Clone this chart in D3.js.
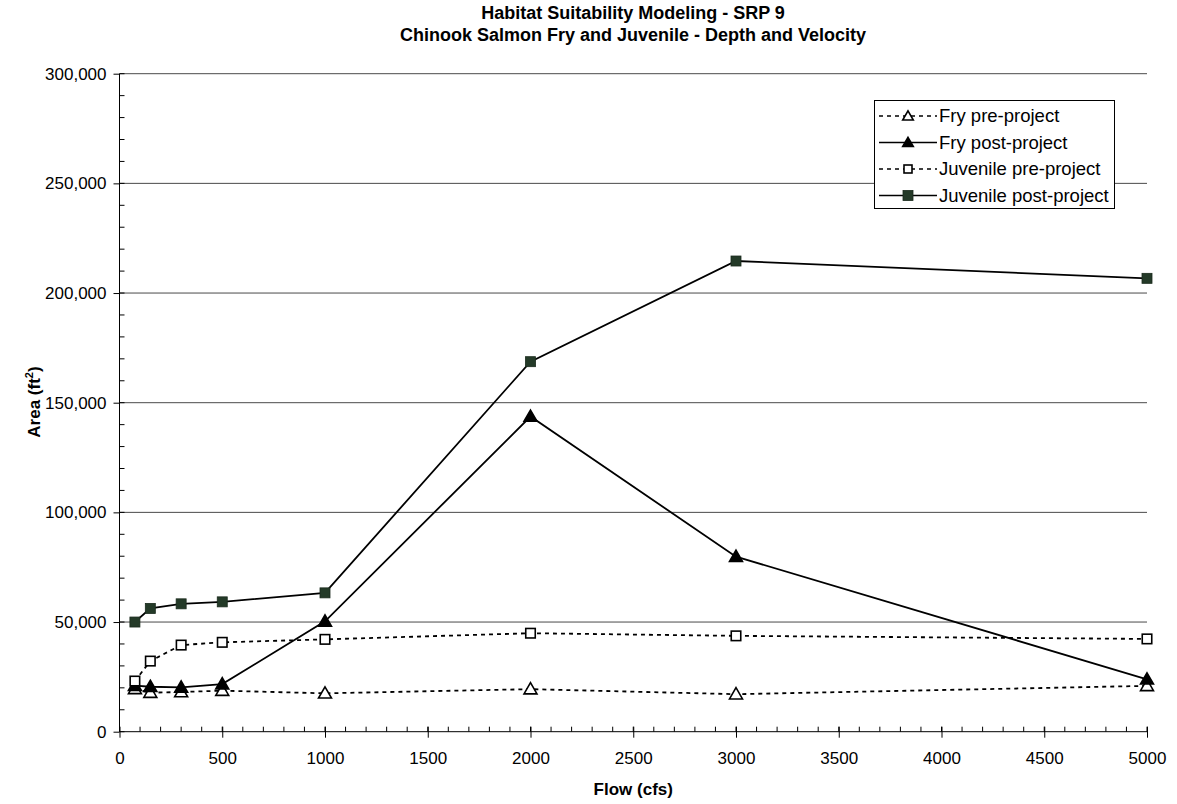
<!DOCTYPE html>
<html><head><meta charset="utf-8">
<script src="https://cdn.jsdelivr.net/npm/d3@7"></script>
<style>
body{margin:0;background:#fff;}
svg{font-family:"Liberation Sans",Arial,sans-serif;}
</style></head>
<body><svg id="c" width="1177" height="804"></svg>
<script>
const flows = [75, 150, 300, 500, 1000, 2000, 3000, 5000];
const fryPre = [19500, 17800, 18100, 18700, 17500, 19400, 17100, 20900];
const fryPost = [21000, 20500, 20200, 21700, 50300, 143700, 79800, 23900];
const juvPre = [23100, 32200, 39500, 40750, 42100, 44900, 43700, 42300];
const juvPost = [50000, 56200, 58300, 59200, 63300, 168700, 214600, 206700];
const xTicks = [0,500,1000,1500,2000,2500,3000,3500,4000,4500,5000];
const yTicks = [0,50000,100000,150000,200000,250000,300000];
const titleLines = ["Habitat Suitability Modeling - SRP 9","Chinook Salmon Fry and Juvenile - Depth and Velocity"];
const seriesNames = ["Fry pre-project","Fry post-project","Juvenile pre-project","Juvenile post-project"];

const svg = d3.select("#c");
const x = d3.scaleLinear().domain([0,5000]).range([119.5,1147]);
const y = d3.scaleLinear().domain([0,300000]).range([731.7,73.7]);
const fmt = d3.format(",");

// gridlines
svg.append("g").selectAll("line").data(yTicks.filter(d=>d>0)).join("line")
  .attr("x1",x(0)).attr("x2",x(5000)).attr("y1",d=>y(d)).attr("y2",d=>y(d))
  .attr("stroke","#4a4a4a").attr("stroke-width",1);

// minor ticks
const minorY = d3.range(0,300001,10000);
svg.append("g").selectAll("line").data(minorY).join("line")
  .attr("x1",x(0)).attr("x2",x(0)+5).attr("y1",d=>y(d)).attr("y2",d=>y(d))
  .attr("stroke","#000");
const minorX = d3.range(0,5001,100);
svg.append("g").selectAll("line").data(minorX).join("line")
  .attr("x1",d=>x(d)).attr("x2",d=>x(d)).attr("y1",y(0)).attr("y2",y(0)-5)
  .attr("stroke","#000");

// axes
const yAxis = d3.axisLeft(y).tickValues(yTicks).tickFormat(fmt).tickSize(6).tickPadding(7);
const gy = svg.append("g").attr("transform",`translate(${x(0)},0)`).call(yAxis);
gy.select(".domain").attr("stroke","#000").attr("d",`M0,${y(0)}V${y(300000)}`);
gy.selectAll("text").attr("font-size",17).attr("font-family","Liberation Sans, Arial").attr("fill","#000");
const xAxis = d3.axisBottom(x).tickValues(xTicks).tickFormat(d3.format("d")).tickSize(6).tickPadding(14);
const gx = svg.append("g").attr("transform",`translate(0,${y(0)})`).call(xAxis);
gx.select(".domain").attr("stroke","#000").attr("d",`M${x(0)},0H${x(5000)}`);
gx.selectAll(".tick line").attr("y1",-5);
gx.selectAll("text").attr("font-size",17).attr("font-family","Liberation Sans, Arial").attr("fill","#000");

// title
svg.append("g").selectAll("text").data(titleLines).join("text")
  .attr("x",633).attr("y",(d,i)=>19+i*21.5).attr("text-anchor","middle")
  .attr("font-size",18).attr("font-weight","bold").text(d=>d);

// axis titles
svg.append("text").attr("x",x(2500)).attr("y",795).attr("text-anchor","middle")
  .attr("font-size",17).attr("font-weight","bold").text("Flow (cfs)");
const yt = svg.append("text").attr("transform","translate(40,402) rotate(-90)")
  .attr("text-anchor","middle").attr("font-size",17).attr("font-weight","bold");
yt.append("tspan").text("Area (ft");
yt.append("tspan").attr("font-size",11).attr("dy",-7).text("2");
yt.append("tspan").attr("dy",7).text(")");

const series = [
  {name:seriesNames[0], vals:fryPre, dash:"4,4", marker:"tri", fill:"#fff"},
  {name:seriesNames[1], vals:fryPost, dash:null, marker:"tri", fill:"#000"},
  {name:seriesNames[2], vals:juvPre, dash:"4,4", marker:"sq", fill:"#fff"},
  {name:seriesNames[3], vals:juvPost, dash:null, marker:"sq", fill:"#243a28"}
];
const line = d3.line().x(d=>x(d[0])).y(d=>y(d[1]));
function drawMarker(g, type, fill, cx, cy, s){
  if(type==="sq"){
    g.append("rect").attr("x",cx-s/2).attr("y",cy-s/2).attr("width",s).attr("height",s)
     .attr("fill",fill).attr("stroke", fill==="#fff"?"#000":"#1a2a1c").attr("stroke-width",fill==="#fff"?1.6:0.8);
  } else {
    g.append("path").attr("d",d3.symbol().type(d3.symbolTriangle).size(s*s*0.6)())
     .attr("transform",`translate(${cx},${cy+1})`)
     .attr("fill",fill).attr("stroke","#000").attr("stroke-width",1.6);
  }
}
series.forEach(s=>{
  const pts = flows.map((f,i)=>[f,s.vals[i]]);
  const g = svg.append("g");
  g.append("path").datum(pts).attr("d",line).attr("fill","none").attr("stroke","#000")
   .attr("stroke-width",1.8).attr("stroke-dasharray",s.dash);
  pts.forEach(p=>drawMarker(g,s.marker,s.fill,x(p[0]),y(p[1]),s.marker==="sq"?(s.fill==="#fff"?9.5:10):11));
});

// legend
const lg = svg.append("g");
lg.append("rect").attr("x",874.5).attr("y",100.5).attr("width",240).attr("height",108)
  .attr("fill","#fff").attr("stroke","#000").attr("stroke-width",1);
series.forEach((s,i)=>{
  const cy = 116+i*26.5;
  lg.append("line").attr("x1",879).attr("x2",937).attr("y1",cy).attr("y2",cy)
    .attr("stroke","#000").attr("stroke-width",1.6).attr("stroke-dasharray",s.dash?"4,4":null);
  drawMarker(lg,s.marker,s.fill,908,cy,s.marker==="sq"?(s.fill==="#fff"?8:10):9);
  lg.append("text").attr("x",939).attr("y",cy+6).attr("font-size",18.5).text(s.name);
});
</script></body></html>
